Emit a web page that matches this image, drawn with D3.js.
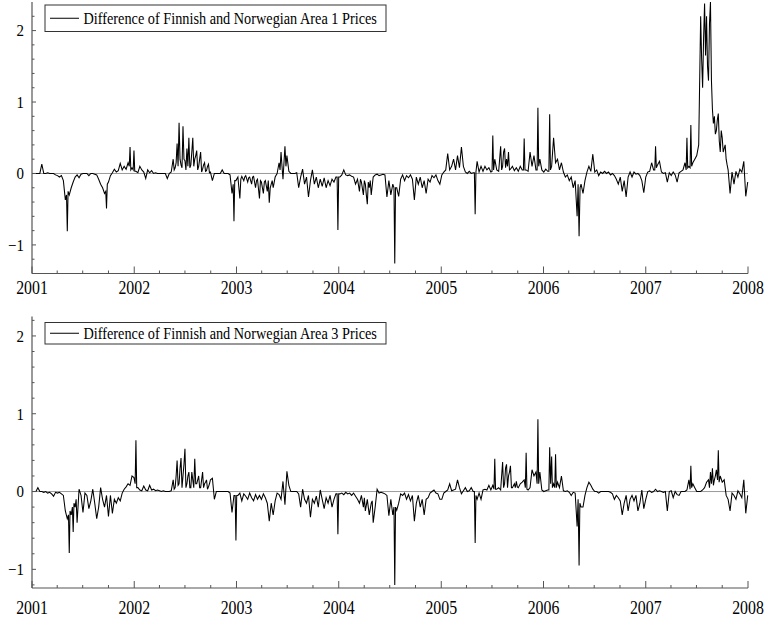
<!DOCTYPE html>
<html>
<head>
<meta charset="utf-8">
<script src="https://cdn.jsdelivr.net/npm/d3@7"></script>
<style>
  html, body { margin: 0; padding: 0; background: #fff; }
  svg { display: block; }
</style>
</head>
<body>
<svg id="chart" width="765" height="619"></svg>
<script>
// Price differences, one reading per week from the start date,
// plus extra mid-week readings [weekPosition, value] where prices moved fast.
const seriesStart = Date.UTC(2001, 0, 1);
const stepDays = 7;

const yearTicks = [2001, 2002, 2003, 2004, 2005, 2006, 2007, 2008];
const yMajorTicks = [-1, 0, 1, 2];

const legendArea1 = "Difference of Finnish and Norwegian Area 1 Prices";
const legendArea3 = "Difference of Finnish and Norwegian Area 3 Prices";

const area1 = [
  0, 0, 0, 0, 0, 0.13, 0, 0, 0.01, 0,
  0, 0, -0.02, -0.03, -0.05, -0.03, -0.1, -0.37, -0.81, -0.3,
  -0.2, -0.12, -0.05, -0.02, -0.06, -0.01, 0, 0, 0, -0.03,
  0, 0, -0.01, -0.02, -0.08, -0.15, -0.2, -0.28, -0.49, -0.12,
  -0.03, 0.01, 0.06, 0.02, 0.04, 0.14, 0.05, 0.1, 0.06, 0.15,
  0.37, 0.08, 0.32, 0.03, 0.01, 0.1, 0.05, 0.02, -0.07, 0.05,
  0.01, 0.04, 0, 0.01, 0, 0, 0, 0, 0, -0.07,
  0, 0.02, 0.2, 0.08, 0.42, 0.71, 0.12, 0.66, 0.18, 0.35,
  0.5, 0.12, 0.5, 0.2, 0.32, 0.1, 0.3, 0.06, 0.15, 0.04,
  0.13, 0.02, -0.1, 0, 0, 0, 0, 0.05, 0, 0,
  0, -0.02, -0.28, -0.67, -0.1, -0.05, -0.35, -0.04, -0.1, -0.03,
  -0.12, -0.05, -0.15, -0.04, -0.2, -0.08, -0.35, -0.12, -0.28, -0.1,
  -0.25, -0.41, -0.15, -0.2, -0.05, 0, 0.15, 0.3, -0.08, 0.38,
  0.25, 0.03, 0, 0, 0, 0.01, -0.2, -0.05, 0.06, -0.15,
  -0.05, -0.33, -0.1, 0.05, -0.15, -0.05, -0.2, -0.08, -0.18, -0.06,
  -0.2, -0.1, -0.17, -0.08, -0.12, -0.05, -0.79, -0.05, -0.02, 0.05,
  -0.02, -0.03, -0.02, -0.04, -0.05, -0.15, -0.08, -0.25, -0.12, -0.3,
  -0.15, -0.43, -0.2, -0.3, -0.05, -0.02, -0.01, -0.03, -0.02, -0.01,
  -0.02, -0.33, -0.1, -0.3, -0.15, -1.26, -0.2, -0.32, -0.08, -0.02,
  -0.1, -0.03, -0.06, -0.02, -0.08, -0.37, -0.05, -0.15, -0.05, -0.2,
  -0.1, -0.28, -0.08, -0.12, -0.03, -0.06, -0.02, -0.1, -0.15, -0.02,
  0.02, 0.05, 0.28, 0.05, 0.1, 0.2, 0.05, 0.25, 0.08, 0.37,
  0.1, 0.02, 0, 0.03, 0, 0.01, -0.57, 0.17, 0.02, 0.1,
  0.03, 0.1, 0.05, 0.08, 0.02, 0.53, 0.2, 0.05, 0.03, 0.38,
  0.1, 0.35, 0.2, 0.3, 0.06, 0.1, 0.04, 0.08, 0.03, 0.1,
  0.05, 0.49, 0.05, 0.03, 0.3, 0.1, 0.25, 0.05, 0.92, 0.2,
  0.05, 0.02, 0.06, 0.03, 0.83, 0.1, 0.5, 0.15, 0.2, 0.05,
  0.15, 0.02, -0.05, -0.02, -0.1, -0.05, -0.2, -0.1, -0.6, -0.88,
  -0.15, -0.28, -0.1, 0.02, 0.1, 0.03, 0.27, 0.02, 0.05, -0.03,
  0.02, 0, 0.03, 0, 0.02, -0.02, 0, -0.03, -0.08, -0.15,
  -0.05, -0.25, -0.1, -0.33, -0.05, 0.02, -0.05, 0.02, -0.01, 0,
  -0.03, -0.1, -0.27, -0.05, 0.02, 0.03, 0.15, 0.05, 0.38, 0.12,
  0.17, 0.02, 0, 0.01, -0.12, 0.01, -0.03, 0.02, -0.02, -0.12,
  0.01, 0.03, 0.05, 0.15, 0.5, 0.1, 0.68, 0.15, 0.2, 0.25,
  0.4, 2.2, 1.2, 2.38, 2.2, 1.3, 2.4, 0.9, 0.8, 0.6,
  0.84, 0.3, 0.5, 0.35, 0.2, 0.05, -0.28, 0.02, -0.15, 0.03,
  -0.05, 0.06, 0.02, 0.17, -0.32, -0.12
];

const area1MidWeek = [
  [17.6, -0.3], [18.4, -0.25], [37.6, -0.25], [38.4, -0.15],
  [49.6, 0.1], [50.4, 0.05], [51.6, 0.05], [52.4, 0.03],
  [72.5, 0.05], [73.5, 0.15], [74.5, 0.1], [75.5, 0.2], [76.5, 0.08], [77.5, 0.2],
  [78.5, 0.05], [79.5, 0.1], [80.5, 0.08], [81.5, 0.3], [82.5, 0.1], [83.5, 0.25],
  [84.5, 0.05], [85.5, 0.2], [86.5, 0.02], [87.5, 0.12], [88.5, 0.03], [89.5, 0.1], [90.5, 0.01],
  [102.6, -0.15], [103.4, -0.1],
  [106.5, -0.08], [108.5, -0.05], [110.5, -0.06], [112.5, -0.05], [114.5, -0.1],
  [116.5, -0.1], [118.5, -0.12], [120.5, -0.1], [121.5, -0.2], [122.5, -0.1],
  [126.5, 0.05], [127.5, 0.1], [129.5, 0.1],
  [155.6, -0.05], [156.4, -0.05],
  [167.5, -0.08], [169.5, -0.1], [170.5, -0.3], [171.5, -0.12], [172.5, -0.1],
  [184.6, -0.2], [185.4, -0.2],
  [225.6, 0.01], [226.4, 0.02], [234.6, 0.03], [235.4, 0.05],
  [239.5, 0.05], [240.5, 0.3], [241.5, 0.08], [242.5, 0.1], [243.5, 0.05],
  [250.6, 0.05], [251.4, 0.05], [257.6, 0.05], [258.4, 0.1], [263.6, 0.03], [264.4, 0.05],
  [278.5, -0.15], [279.5, -0.2],
  [317.6, 0.05], [318.4, 0.08], [333.6, 0.05], [334.4, 0.08], [335.6, 0.08], [336.4, 0.1],
  [341.5, 1.6], [342.5, 1.9], [343.5, 1.65], [344.5, 1.5], [345.5, 2.1], [346.5, 1.3],
  [347.5, 0.7], [348.5, 0.55], [349.5, 0.75], [350.5, 0.45], [351.5, 0.6], [352.5, 0.3],
  [353.5, 0.4], [354.5, 0.12]
];

const area3 = [
  0, 0, 0, 0.05, 0, 0, -0.01, 0, -0.02, -0.01,
  -0.03, -0.06, -0.01, -0.02, -0.01, -0.03, -0.05, -0.25, -0.35, -0.79,
  -0.3, -0.52, -0.2, -0.4, 0.03, -0.05, -0.27, -0.02, -0.05, -0.22,
  -0.12, 0.03, -0.15, -0.35, -0.2, 0.05, -0.1, -0.2, -0.05, -0.32,
  -0.05, -0.28, -0.1, -0.15, -0.08, -0.12, -0.02, 0.03, 0.06, 0.1,
  0.08, 0.2, 0.18, 0.66, 0.05, 0.02, 0.01, 0.07, 0.02, 0.01,
  0.08, 0.02, 0.03, 0.01, 0.02, 0.01, 0, 0.01, 0, 0,
  0, 0.01, 0.15, 0.05, 0.4, 0.1, 0.43, 0.2, 0.55, 0.1,
  0.25, 0.05, 0.15, 0.42, 0.1, 0.2, 0.05, 0.25, 0.1, 0.15,
  0.06, 0.15, 0.17, -0.1, 0, 0, 0, 0, 0, 0,
  0, -0.02, -0.27, -0.05, -0.63, -0.05, -0.02, -0.12, -0.03, -0.06,
  -0.1, -0.02, -0.08, -0.12, -0.04, -0.1, -0.05, -0.1, -0.03, -0.08,
  -0.15, -0.38, -0.15, -0.3, -0.12, -0.02, -0.04, -0.1, 0.13, -0.17,
  0.26, 0.08, 0, 0, 0, 0, -0.03, -0.2, 0.03, -0.1,
  -0.15, -0.05, -0.33, -0.1, -0.15, -0.06, -0.2, 0.02, -0.1, -0.22,
  -0.08, -0.15, -0.05, -0.2, -0.1, -0.03, -0.55, -0.03, -0.02, -0.04,
  -0.01, -0.03, -0.02, -0.05, -0.02, -0.06, -0.1, -0.15, -0.05, -0.2,
  -0.25, -0.1, -0.3, -0.15, -0.4, -0.2, 0.03, -0.02, -0.01, -0.02,
  -0.03, -0.05, -0.31, -0.1, -0.3, -1.2, -0.24, -0.15, -0.03, -0.05,
  -0.02, -0.1, -0.04, -0.12, -0.05, -0.38, -0.15, -0.05, -0.2, -0.1,
  -0.3, -0.1, -0.08, -0.02, 0, 0.02, -0.02, -0.03, -0.1, -0.1,
  -0.02, 0, 0.02, 0.1, 0.01, 0.02, 0.03, 0.15, 0.05, -0.03,
  0.01, 0.05, 0, 0.01, 0.05, 0, -0.66, -0.1, -0.02, -0.1,
  0.02, 0.03, 0.02, 0.08, 0.02, 0.08, 0.42, 0.03, 0.05, 0.02,
  0.38, 0.1, 0.35, 0.2, 0.33, 0.05, 0.1, 0.13, 0.05, 0.1,
  0.12, 0.15, 0.5, 0.02, 0.05, 0.28, 0.2, 0.25, 0.93, 0.25,
  0.02, 0, 0.01, 0.02, 0.57, 0.45, 0.1, 0.48, 0.12, 0.05,
  0.2, 0.01, 0, 0.01, -0.01, -0.05, -0.01, -0.02, -0.45, -0.95,
  -0.2, -0.2, -0.05, 0.05, 0.12, 0.08, 0.03, 0, 0, -0.02,
  0, 0, 0, 0, 0, -0.01, -0.03, -0.1, -0.05, -0.08,
  -0.12, -0.3, -0.15, -0.05, -0.25, -0.1, -0.05, -0.12, -0.05, -0.25,
  -0.15, 0.02, -0.22, -0.1, 0, 0.01, -0.01, 0, 0.03, 0,
  0.01, 0, -0.01, 0, -0.25, 0, 0.01, -0.08, 0, -0.04,
  -0.05, 0, 0, 0, 0.02, 0.15, 0.33, 0.1, 0.05, 0,
  0, 0, 0.02, 0.05, 0.12, 0.15, 0.25, 0.3, 0.15, 0.28,
  0.53, 0.2, 0.12, 0.15, -0.05, -0.1, -0.25, -0.02, -0.05, -0.1,
  0.01, -0.03, -0.08, 0.15, -0.28, -0.05
];

const area3MidWeek = [
  [18.6, -0.3], [19.4, -0.25], [20.6, -0.2], [21.4, -0.15], [22.5, -0.1],
  [52.6, 0.1], [53.4, 0.05],
  [72.5, 0.03], [73.5, 0.2], [74.5, 0.08], [75.5, 0.3], [76.5, 0.05], [77.5, 0.35],
  [78.5, 0.05], [79.5, 0.2], [80.5, 0.05], [81.5, 0.25], [82.5, 0.05], [83.5, 0.1],
  [84.5, 0.15], [85.5, 0.05], [86.5, 0.15], [87.5, 0.05], [88.5, 0.12], [89.5, 0.03], [90.5, 0.1],
  [103.6, -0.05], [104.4, -0.05],
  [155.6, -0.03], [156.4, -0.03],
  [169.5, -0.08], [171.5, -0.2], [173.5, -0.12],
  [184.6, -0.2], [185.4, -0.2],
  [225.6, 0], [226.4, -0.05], [235.6, 0.03], [236.4, 0.03],
  [240.5, 0.05], [241.5, 0.3], [242.5, 0.05], [243.5, 0.25], [244.5, 0.05], [246.5, 0.05], [247.5, 0.06],
  [251.6, 0.05], [252.4, 0.03], [257.6, 0.1], [258.4, 0.1],
  [263.6, 0.02], [264.5, 0.1], [265.4, 0.05], [266.6, 0.05], [267.4, 0.05],
  [278.5, -0.1], [279.4, -0.15],
  [335.6, 0.03], [336.4, 0.05],
  [345.5, 0.05], [346.5, 0.1], [347.5, 0.08], [348.5, 0.2], [349.6, 0.15], [350.4, 0.12]
];

const FONT = "'Liberation Serif', 'Times New Roman', Times, serif";
const AXIS_COLOR = "#555";
const svg = d3.select("#chart");

const x = d3.scaleUtc()
  .domain([new Date(Date.UTC(2001, 0, 1)), new Date(Date.UTC(2008, 0, 1))])
  .range([32, 748]);

const dayMs = 24 * 3600 * 1000;
const atWeek = w => new Date(seriesStart + w * stepDays * dayMs);
function toPoints(weekly, midWeek) {
  const pts = weekly.map((v, i) => ({ pos: i, value: v }))
    .concat(midWeek.map(([w, v]) => ({ pos: w, value: v })));
  pts.sort((a, b) => a.pos - b.pos);
  return pts.map(p => ({ date: atWeek(p.pos), value: p.value }));
}

// Narrow serif text: glyphs are drawn slightly condensed horizontally.
function serifText(g, px, py, str, size, anchor, sx) {
  return g.append("text")
    .attr("transform", `translate(${px},${py}) scale(${sx},1)`)
    .attr("text-anchor", anchor)
    .attr("font-family", FONT)
    .attr("font-size", size)
    .attr("fill", "#000")
    .text(str);
}

const panels = [
  { values: area1, mid: area1MidWeek, label: legendArea1, top: 2, bottom: 273.5, domain: [-1.4, 2.4],
    legend: { x: 45, y: 5, w: 341, h: 26.5 }, yearBaseline: 294 },
  { values: area3, mid: area3MidWeek, label: legendArea3, top: 316.5, bottom: 588, domain: [-1.24, 2.25],
    legend: { x: 45, y: 322.5, w: 341, h: 21.5 }, yearBaseline: 614 }
];

const fmt = d3.format("d");

panels.forEach(p => {
  const g = svg.append("g");
  const y = d3.scaleLinear().domain(p.domain).range([p.bottom, p.top]);
  const [x0, x1] = x.range();

  // zero reference line
  g.append("line")
    .attr("x1", x0).attr("x2", x1)
    .attr("y1", y(0)).attr("y2", y(0))
    .attr("stroke", "#9a9a9a").attr("stroke-width", 1);

  // series
  const line = d3.line().x(d => x(d.date)).y(d => y(d.value));
  g.append("path")
    .datum(toPoints(p.values, p.mid))
    .attr("d", line)
    .attr("fill", "none")
    .attr("stroke", "#000")
    .attr("stroke-width", 1.05)
    .attr("stroke-linejoin", "miter");

  // axis lines
  g.append("line").attr("x1", x0).attr("x2", x0).attr("y1", p.top).attr("y2", p.bottom)
    .attr("stroke", AXIS_COLOR).attr("stroke-width", 1.2);
  g.append("line").attr("x1", x0).attr("x2", x1).attr("y1", p.bottom).attr("y2", p.bottom)
    .attr("stroke", AXIS_COLOR).attr("stroke-width", 1.2);

  // y ticks: minor every 0.2, major at integers (drawn inward)
  const minorY = d3.range(Math.ceil(p.domain[0] / 0.2), Math.floor(p.domain[1] / 0.2) + 1)
    .map(k => Math.round(k * 0.2 * 10) / 10)
    .filter(v => !yMajorTicks.includes(v));
  g.selectAll(".ymin").data(minorY).enter().append("line")
    .attr("x1", x0).attr("x2", x0 + 2.5)
    .attr("y1", d => y(d)).attr("y2", d => y(d))
    .attr("stroke", AXIS_COLOR).attr("stroke-width", 1);
  g.selectAll(".ymaj").data(yMajorTicks).enter().append("line")
    .attr("x1", x0).attr("x2", x0 + 4)
    .attr("y1", d => y(d)).attr("y2", d => y(d))
    .attr("stroke", AXIS_COLOR).attr("stroke-width", 1);
  yMajorTicks.forEach(v => {
    serifText(g, 24, y(v) + 5.8, fmt(v), 17, "end", 0.88);
  });

  // x ticks: major at years, minor each quarter (drawn inward)
  const quarters = d3.utcMonth.every(3).range(x.domain()[0], new Date(x.domain()[1].getTime() + 1))
    .filter(d => d.getUTCMonth() !== 0);
  g.selectAll(".xmin").data(quarters).enter().append("line")
    .attr("x1", d => x(d)).attr("x2", d => x(d))
    .attr("y1", p.bottom).attr("y2", p.bottom - 3)
    .attr("stroke", AXIS_COLOR).attr("stroke-width", 1);
  g.selectAll(".xmaj").data(yearTicks).enter().append("line")
    .attr("x1", d => x(new Date(Date.UTC(d, 0, 1)))).attr("x2", d => x(new Date(Date.UTC(d, 0, 1))))
    .attr("y1", p.bottom).attr("y2", p.bottom - 7)
    .attr("stroke", AXIS_COLOR).attr("stroke-width", 1);
  yearTicks.forEach(yr => {
    serifText(g, x(new Date(Date.UTC(yr, 0, 1))), p.yearBaseline, String(yr), 18, "middle", 0.88);
  });

  // legend
  const L = p.legend;
  g.append("rect")
    .attr("x", L.x).attr("y", L.y).attr("width", L.w).attr("height", L.h)
    .attr("fill", "#fff").attr("stroke", "#333").attr("stroke-width", 1);
  const cy = L.y + L.h / 2;
  g.append("line")
    .attr("x1", L.x + 5).attr("x2", L.x + 34)
    .attr("y1", cy).attr("y2", cy)
    .attr("stroke", "#000").attr("stroke-width", 1);
  serifText(g, L.x + 38.5, cy + 5.5, p.label, 17, "start", 0.84);
});
</script>
</body>
</html>
